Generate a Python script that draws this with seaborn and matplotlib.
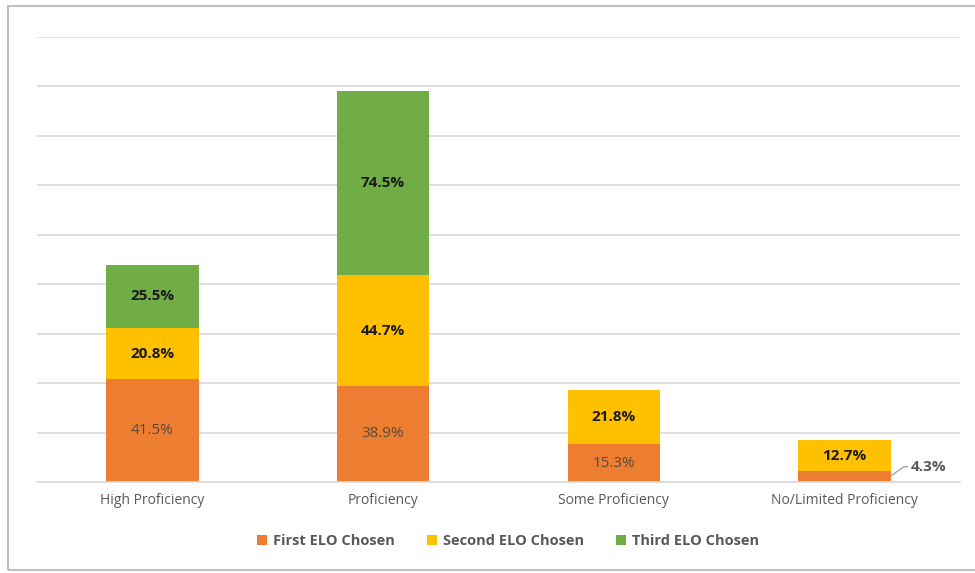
import matplotlib
matplotlib.use("Agg")
import matplotlib.pyplot as plt
from matplotlib.patches import Rectangle
import numpy as np
import pandas as pd
import seaborn as sns

categories = ["High Proficiency", "Proficiency", "Some Proficiency", "No/Limited Proficiency"]
first_elo = [41.5, 38.9, 15.3, 4.3]
second_elo = [20.8, 44.7, 21.8, 12.7]
third_elo = [25.5, 74.5, 0.0, 0.0]
series_names = ["First ELO Chosen", "Second ELO Chosen", "Third ELO Chosen"]
colors = ["#ED7D31", "#FFC000", "#70AD47"]

sns.set_theme(style="white")
plt.rcParams["font.family"] = ["Open Sans", "DejaVu Sans"]

fig = plt.figure(figsize=(9.75, 5.73), dpi=100)
ax = fig.add_axes([37 / 975, 1 - 482 / 573, (960 - 37) / 975, (482 - 37) / 573])

df = pd.DataFrame({"category": categories, "first": first_elo,
                   "second": second_elo, "third": third_elo})
bottoms = [np.zeros(len(categories)), np.array(first_elo),
           np.array(first_elo) + np.array(second_elo)]
for col, name, color, bottom in zip(["first", "second", "third"], series_names, colors, bottoms):
    sns.barplot(data=df, x="category", y=col, bottom=bottom, color=color,
                width=0.4, label=name, ax=ax, saturation=1, edgecolor="none")

ax.set_xlim(-0.5, 3.5)
ax.set_ylim(0, 180)
ax.set_yticks(np.arange(0, 181, 20))
ax.yaxis.grid(True, color="#D9D9D9", linewidth=1.2)
ax.set_axisbelow(True)
ax.set_yticklabels([])
ax.tick_params(axis="y", length=0)
ax.tick_params(axis="x", length=0, pad=8, labelsize=10, labelcolor="#595959")
ax.set_xlabel("")
ax.set_ylabel("")
for s in ["top", "right", "left"]:
    ax.spines[s].set_visible(False)
ax.spines["bottom"].set_color("#D9D9D9")
ax.spines["bottom"].set_linewidth(1.2)

# value labels
for i in range(len(categories)):
    f, s, t = first_elo[i], second_elo[i], third_elo[i]
    if f >= 8:
        ax.text(i, f / 2, f"{f}%", ha="center", va="center", fontsize=11,
                color="#5A4A3A")
    else:
        # small segment: label outside with a leader line
        ax.annotate(f"{f}%", xy=(i + 0.2, f / 2 + 0.3), xytext=(i + 0.365, 6.2),
                    ha="center", va="center", fontsize=11, color="#595959",
                    fontweight="bold",
                    arrowprops=dict(arrowstyle="-", color="#A6A6A6", lw=1,
                                    shrinkA=16, shrinkB=0,
                                    connectionstyle="angle,angleA=0,angleB=35,rad=0"))
    if s > 0:
        ax.text(i, f + s / 2, f"{s}%", ha="center", va="center", fontsize=11,
                color="#1A1A1A", fontweight="bold")
    if t > 0:
        ax.text(i, f + s + t / 2, f"{t}%", ha="center", va="center", fontsize=11,
                color="#1A1A1A", fontweight="bold")

leg = ax.legend(loc="center", bbox_to_anchor=(0.51, (482 - 541) / 445), ncol=3,
                frameon=False, handlelength=0.7, handleheight=0.7, handletextpad=0.4,
                columnspacing=2.2, fontsize=10.5)
for txt in leg.get_texts():
    txt.set_color("#595959")
    txt.set_fontweight("bold")

# chart frame (right edge runs past the canvas)
fig.patches.append(Rectangle((8 / 975, 1 - 570 / 573), 1.05, (570 - 6) / 573,
                             transform=fig.transFigure, fill=False,
                             edgecolor="#BFBFBF", linewidth=1.5))

fig.savefig("out.png", dpi=100)
